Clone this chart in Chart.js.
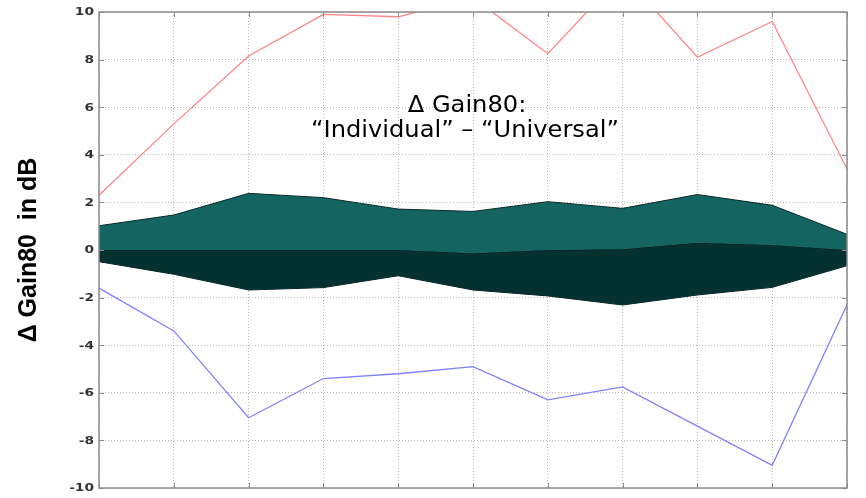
<!DOCTYPE html>
<html>
<head>
<meta charset="utf-8">
<script src="https://cdn.jsdelivr.net/npm/chart.js@4.4.1/dist/chart.umd.min.js"></script>
<style>
  html,body{margin:0;padding:0;background:#fff;}
  #wrap{width:866px;height:498px;position:relative;}
</style>
</head>
<body>
<div id="wrap"><canvas id="c" width="866" height="498"></canvas></div>
<script>
// Categories (no labels shown on the x axis)
const categories = ['1','2','3','4','5','6','7','8','9','10','11'];
// Y tick labels
const yTicks = [-10,-8,-6,-4,-2,0,2,4,6,8,10];
// Series values (dB)
const maxValues    = [2.3, 5.3, 8.15, 9.9, 9.8, 10.6, 8.25, 11.6, 8.1, 9.6, 3.4];
const minValues    = [-1.6, -3.4, -7.05, -5.4, -5.2, -4.9, -6.3, -5.75, -7.4, -9.05, -2.3];
const upperQuart   = [1.02, 1.47, 2.38, 2.2, 1.72, 1.62, 2.03, 1.75, 2.33, 1.88, 0.66];
const medianValues = [0, 0, 0, 0, 0, -0.14, 0, 0.03, 0.3, 0.21, 0];
const lowerQuart   = [-0.49, -1.02, -1.68, -1.58, -1.08, -1.68, -1.93, -2.31, -1.89, -1.57, -0.66];

const annotationLines = ['\u0394 Gain80:', '\u201CIndividual\u201D \u2013 \u201CUniversal\u201D'];
const yTitle = '\u0394 Gain80  in dB';

const framePlugin = {
  id: 'frame',
  afterDraw(chart) {
    const {ctx, chartArea: a, scales} = chart;
    ctx.save();
    ctx.strokeStyle = '#8a8a8a';
    ctx.lineWidth = 1.5;
    ctx.strokeRect(a.left, a.top, a.right - a.left, a.bottom - a.top);
    ctx.lineWidth = 1;
    ctx.beginPath();
    const L = 5;
    scales.y.ticks.forEach(t => {
      const y = Math.round(scales.y.getPixelForValue(t.value)) + 0.5;
      ctx.moveTo(a.left, y); ctx.lineTo(a.left + L, y);
      ctx.moveTo(a.right, y); ctx.lineTo(a.right - L, y);
    });
    categories.forEach((c, i) => {
      const x = Math.round(scales.x.getPixelForValue(i)) + 0.5;
      ctx.moveTo(x, a.top); ctx.lineTo(x, a.top + L);
      ctx.moveTo(x, a.bottom); ctx.lineTo(x, a.bottom - L);
    });
    ctx.stroke();

    // y tick labels (horizontally stretched like the reference)
    ctx.fillStyle = '#333';
    ctx.font = 'bold 11px "DejaVu Sans"';
    ctx.textAlign = 'right';
    ctx.textBaseline = 'middle';
    const sx = 1.25;
    yTicks.forEach(v => {
      const y = scales.y.getPixelForValue(v);
      ctx.save();
      ctx.translate(94, y + 0.5);
      ctx.scale(sx, 1);
      ctx.fillText(String(v), 0, 0);
      ctx.restore();
    });

    // annotation text
    ctx.fillStyle = '#000';
    ctx.font = '23px "DejaVu Sans"';
    ctx.textAlign = 'center';
    ctx.textBaseline = 'alphabetic';
    ctx.save();
    ctx.translate(467, 112); ctx.scale(1.05, 1);
    ctx.fillText(annotationLines[0], 0, 0);
    ctx.restore();
    ctx.save();
    ctx.translate(465, 137); ctx.scale(1.05, 1);
    ctx.fillText(annotationLines[1], 0, 0);
    ctx.restore();
    ctx.restore();
  }
};

new Chart(document.getElementById('c'), {
  type: 'line',
  data: {
    labels: categories,
    datasets: [
      { data: maxValues, borderColor: '#ff8585', borderWidth: 1.3, pointRadius: 0, fill: false, tension: 0 },
      { data: minValues, borderColor: '#8080ff', borderWidth: 1.3, pointRadius: 0, fill: false, tension: 0 },
      { data: upperQuart, borderColor: '#0a2a2a', borderWidth: 1, pointRadius: 0, fill: '+1', backgroundColor: '#146562', tension: 0 },
      { data: medianValues, borderColor: '#021a1a', borderWidth: 1, pointRadius: 0, fill: '+1', backgroundColor: '#053131', tension: 0 },
      { data: lowerQuart, borderColor: '#021a1a', borderWidth: 1, pointRadius: 0, fill: false, tension: 0 }
    ]
  },
  options: {
    responsive: false,
    animation: false,
    layout: { padding: { top: 12, right: 19, bottom: 10, left: 0 } },
    plugins: { legend: { display: false }, tooltip: { enabled: false }, title: { display: false } },
    scales: {
      x: {
        type: 'category',
        offset: false,
        z: 1,
        ticks: { display: false },
        border: { display: false, dash: [1, 2] },
        grid: { color: 'rgba(0,0,0,0.28)', lineWidth: 1, drawTicks: false, tickLength: 0 },
        afterFit(s) { s.height = 0; }
      },
      y: {
        min: -10, max: 10,
        z: 1,
        afterBuildTicks(s) { s.ticks = yTicks.map(v => ({ value: v })); },
        ticks: { display: false },
        border: { display: false, dash: [1, 2] },
        grid: { color: 'rgba(0,0,0,0.28)', lineWidth: 1, drawTicks: false, tickLength: 0 },
        title: {
          display: true,
          text: yTitle,
          color: '#000',
          font: { family: '"Liberation Sans", Arial', size: 25, weight: 'bold' },
          padding: { top: 14, bottom: 0 }
        },
        afterFit(s) { s.width = 99; }
      }
    }
  },
  plugins: [framePlugin]
});
</script>
</body>
</html>
